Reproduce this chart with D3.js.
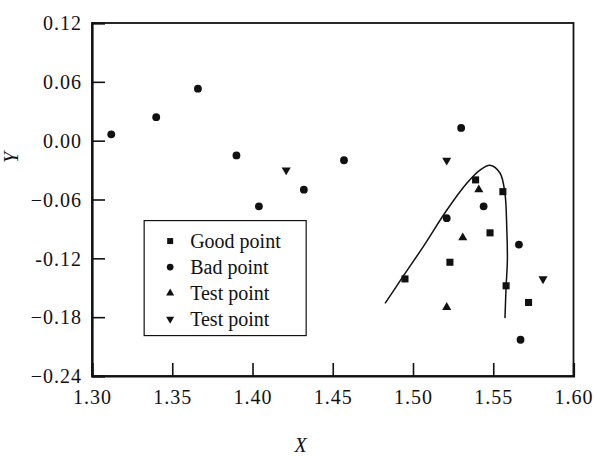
<!DOCTYPE html>
<html>
<head>
<meta charset="utf-8">
<script src="https://cdn.jsdelivr.net/npm/d3@7"></script>
<style>
  body { margin: 0; background: #fff; }
  svg { display: block; }
  text { font-family: "Liberation Serif", "Times New Roman", serif; fill: #111; }
</style>
</head>
<body>
<div id="chart"></div>
<script>
// data
const goodX = [1.495, 1.539, 1.556, 1.548, 1.523, 1.558, 1.572];
const goodY = [-0.141, -0.040, -0.052, -0.094, -0.124, -0.148, -0.165];

const badX = [1.312, 1.340, 1.366, 1.390, 1.404, 1.432, 1.457, 1.530, 1.521, 1.544, 1.566, 1.567];
const badY = [0.0065, 0.024, 0.053, -0.015, -0.067, -0.050, -0.020, 0.013, -0.079, -0.067, -0.106, -0.203];

const testUpX = [1.541, 1.531, 1.521];
const testUpY = [-0.050, -0.099, -0.170];

const testDownX = [1.421, 1.521, 1.581];
const testDownY = [-0.030, -0.020, -0.141];

// boundary curve
const curveX = [1.4826, 1.4944, 1.5064, 1.521, 1.5335, 1.5417, 1.548, 1.5542, 1.5573, 1.5584, 1.5588, 1.558, 1.5573];
const curveY = [-0.166, -0.137, -0.108, -0.071, -0.0435, -0.030, -0.025, -0.033, -0.054, -0.088, -0.122, -0.149, -0.181];

const xTicks = [1.30, 1.35, 1.40, 1.45, 1.50, 1.55, 1.60];
const xTickLabels = ["1.30", "1.35", "1.40", "1.45", "1.50", "1.55", "1.60"];
const yTicks = [0.12, 0.06, 0.00, -0.06, -0.12, -0.18, -0.24];
const yTickLabels = ["0.12", "0.06", "0.00", "\u22120.06", "-0.12", "\u22120.18", "\u22120.24"];

const legendLabels = ["Good point", "Bad point", "Test point", "Test point"];

// Set the dimensions and margins of the diagram
let margin = { top: 23, right: 22.5, bottom: 80, left: 92 },
    width = 596 - margin.left - margin.right,
    height = 456 - margin.top - margin.bottom;

let svg = d3.select("#chart")
    .append("svg")
    .attr("width", 596)
    .attr("height", 456)
    .append("g")
    .attr("transform", "translate(" + margin.left + "," + margin.top + ")");

let x = d3.scaleLinear().domain([1.30, 1.60]).range([0, width]);
let y = d3.scaleLinear().domain([-0.24, 0.12]).range([height, 0]);

// frame (top and right)
svg.append("rect")
    .attr("x", 0).attr("y", 0)
    .attr("width", width).attr("height", height)
    .attr("fill", "none")
    .attr("stroke", "#111")
    .attr("stroke-width", 1.8);

// axes with inward ticks
let xAxis = svg.append("g")
    .attr("transform", "translate(0," + height + ")")
    .call(d3.axisBottom(x)
        .tickValues(xTicks)
        .tickSize(-13)
        .tickPadding(14)
        .tickFormat((d, i) => xTickLabels[i]));

let yAxis = svg.append("g")
    .call(d3.axisLeft(y)
        .tickValues(yTicks)
        .tickSize(-13)
        .tickPadding(10)
        .tickFormat((d, i) => yTickLabels[i]));

[xAxis, yAxis].forEach(a => {
    a.select(".domain").attr("stroke", "#111").attr("stroke-width", 2.2);
    a.selectAll(".tick line").attr("stroke", "#111").attr("stroke-width", 1.6);
    a.selectAll(".tick text")
        .attr("font-family", "Liberation Serif, serif")
        .attr("font-size", 20)
        .attr("letter-spacing", 1)
        .attr("fill", "#111");
});
yAxis.selectAll(".tick text").attr("dy", "0.34em");

// axis titles
svg.append("text")
    .attr("x", x(1.43))
    .attr("y", height + 76)
    .attr("text-anchor", "middle")
    .attr("font-size", 20)
    .attr("font-style", "italic")
    .text("X");

svg.append("text")
    .attr("transform", "translate(" + (-74) + "," + y(-0.017) + ") rotate(-90)")
    .attr("text-anchor", "middle")
    .attr("font-size", 20)
    .attr("font-style", "italic")
    .text("Y");

// boundary curve
let curvePts = curveX.map((d, i) => [d, curveY[i]]);
svg.append("path")
    .datum(curvePts)
    .attr("fill", "none")
    .attr("stroke", "#111")
    .attr("stroke-width", 1.5)
    .attr("d", d3.line()
        .x(d => x(d[0]))
        .y(d => y(d[1]))
        .curve(d3.curveCatmullRom.alpha(0.5)));

// marker symbols
const symSquare = d3.symbol().type(d3.symbolSquare).size(50);
const symCircle = d3.symbol().type(d3.symbolCircle).size(48);
const symTriangle = d3.symbol().type(d3.symbolTriangle).size(36);

function drawSeries(xs, ys, sym, rot) {
    svg.append("g")
        .selectAll("path")
        .data(xs.map((d, i) => [d, ys[i]]))
        .enter()
        .append("path")
        .attr("d", sym)
        .attr("fill", "#111")
        .attr("transform", d => "translate(" + x(d[0]) + "," + y(d[1]) + ")" + (rot ? " rotate(180)" : ""));
}

drawSeries(goodX, goodY, symSquare, false);
drawSeries(badX, badY, symCircle, false);
drawSeries(testUpX, testUpY, symTriangle, false);
drawSeries(testDownX, testDownY, symTriangle, true);

// legend
let lx = x(1.3325), ly = y(-0.0815);
let legend = svg.append("g").attr("transform", "translate(" + lx + "," + ly + ")");
legend.append("rect")
    .attr("width", 162)
    .attr("height", 115)
    .attr("fill", "#fff")
    .attr("stroke", "#111")
    .attr("stroke-width", 1.2);

const legendSyms = [
    d3.symbol().type(d3.symbolSquare).size(36),
    d3.symbol().type(d3.symbolCircle).size(36),
    d3.symbol().type(d3.symbolTriangle).size(28),
    d3.symbol().type(d3.symbolTriangle).size(28)
];

legendLabels.forEach((lab, i) => {
    let row = legend.append("g").attr("transform", "translate(0," + (20.5 + i * 26) + ")");
    row.append("path")
        .attr("d", legendSyms[i])
        .attr("fill", "#111")
        .attr("transform", "translate(26,0)" + (i === 3 ? " rotate(180)" : ""));
    row.append("text")
        .attr("x", 46)
        .attr("dy", "0.34em")
        .attr("font-size", 20)
        .text(lab);
});
</script>
</body>
</html>
